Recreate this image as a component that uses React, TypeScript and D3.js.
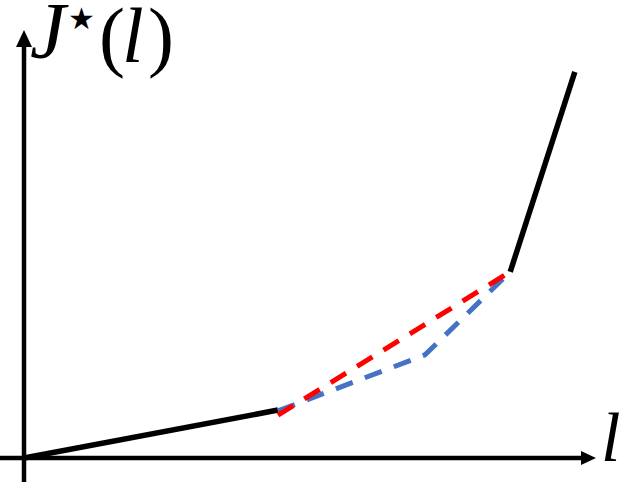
import React from "react";
import * as d3 from "d3";

const W = 622;
const H = 482;

// data in abstract (l, J) units
const blackLow: [number, number][] = [[0, 0], [44.4, 11.2]];
const blackHigh: [number, number][] = [[85, 43.5], [96.3, 90.2]];
const redDashed: [number, number][] = [[44.4, 10.0], [85, 43.5]];
const blueDashed: [number, number][] = [[44.4, 11.0], [70.1, 24.1], [85, 43.5]];
const xLabel = "l";
const yLabelMain = "J";
const yLabelSup = "\u2605";
const yLabelArg = "l";

export default function App() {
  const x = d3.scaleLinear().domain([0, 100]).range([24, 596]);
  const y = d3.scaleLinear().domain([0, 100]).range([458, 30]);
  const line = d3.line<[number, number]>().x((d) => x(d[0])).y((d) => y(d[1]));

  const x0 = x(0);
  const y0 = y(0);
  const xTip = x(100);
  const yTip = y(100);

  return (
    <div style={{ position: "fixed", left: 0, top: 0 }}>
      <svg width={W} height={H} style={{ display: "block", background: "#fff" }}>
        {/* axes */}
        <line x1={x0} y1={H} x2={x0} y2={yTip + 14} stroke="#000" strokeWidth={4.5} />
        <polygon points={`${x0},${yTip} ${x0 - 8},${yTip + 17} ${x0 + 8},${yTip + 17}`} fill="#000" />
        <line x1={0} y1={y0} x2={xTip - 12} y2={y0} stroke="#000" strokeWidth={4.5} />
        <polygon points={`${xTip},${y0} ${xTip - 15},${y0 - 7} ${xTip - 15},${y0 + 7}`} fill="#000" />

        {/* curves */}
        <path d={line(blackLow)!} fill="none" stroke="#000" strokeWidth={5.5} />
        <path d={line(blackHigh)!} fill="none" stroke="#000" strokeWidth={5.5} />
        <path d={line(blueDashed)!} fill="none" stroke="#4472C4" strokeWidth={5} strokeDasharray="18 13" />
        <path d={line(redDashed)!} fill="none" stroke="#FF0000" strokeWidth={5} strokeDasharray="18 13" />

        {/* labels */}
        <text x={601} y={461} fontFamily="Liberation Serif" fontStyle="italic" fontSize={70} fill="#000">
          {xLabel}
        </text>
        <text y={62} fontFamily="Liberation Serif" fontSize={78} fill="#000">
          <tspan x={30} y={58} fontStyle="italic" fontSize={80}>{yLabelMain}</tspan>
          <tspan x={68} y={29} fontFamily="DejaVu Sans" fontSize={30}>{yLabelSup}</tspan>
          <tspan x={99} y={62}>(</tspan>
          <tspan x={122} y={62} fontStyle="italic">{yLabelArg}</tspan>
          <tspan x={148} y={62}>)</tspan>
        </text>
      </svg>
    </div>
  );
}
